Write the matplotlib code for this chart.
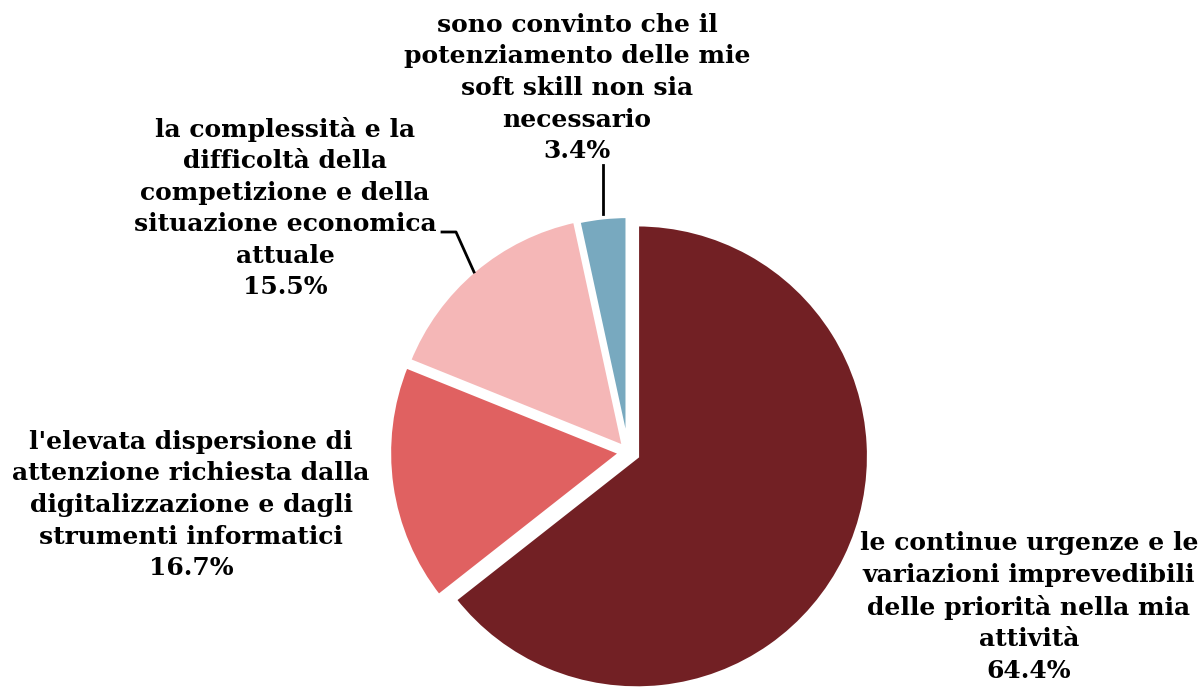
import matplotlib.pyplot as plt

# survey answers, clockwise from 12 o'clock
labels = [
    "le continue urgenze e le\nvariazioni imprevedibili\ndelle priorità nella mia\nattività",
    "l'elevata dispersione di\nattenzione richiesta dalla\ndigitalizzazione e dagli\nstrumenti informatici",
    "la complessità e la\ndifficoltà della\ncompetizione e della\nsituazione economica\nattuale",
    "sono convinto che il\npotenziamento delle mie\nsoft skill non sia\nnecessario",
]
shares = [64.4, 16.7, 15.5, 3.4]
colors = ["#722024", "#E06161", "#F5B7B7", "#78A9BF"]

W, H = 1203, 688
fig = plt.figure(figsize=(W / 100, H / 100), dpi=100)
ax = fig.add_axes([0, 0, 1, 1])

# explode is given in data units (= pixels here)
ax.pie(shares, colors=colors, explode=[10, 7, 6, 4], startangle=90,
       counterclock=False, center=(628, H - 452), radius=232,
       wedgeprops=dict(edgecolor="white", linewidth=3))
ax.set_xlim(0, W)
ax.set_ylim(0, H)
ax.set_aspect("equal")
ax.axis("off")

# label block centres (x, y from top)
label_pos = [(1029, 607), (191, 505), (285, 208), (577, 88)]
font = dict(family="DejaVu Serif", fontweight="bold", fontsize=18, color="black")
for lab, v, (x, y) in zip(labels, shares, label_pos):
    ax.text(x, H - y, f"{lab}\n{v:.1f}%", ha="center", va="center",
            multialignment="center", linespacing=1.4, **font)

# leader lines
ax.plot([603, 603], [H - 165, H - 214], color="black", lw=2)
ax.plot([442, 456, 474], [H - 232, H - 232, H - 272], color="black", lw=2)

fig.savefig("out.png", dpi=100)
